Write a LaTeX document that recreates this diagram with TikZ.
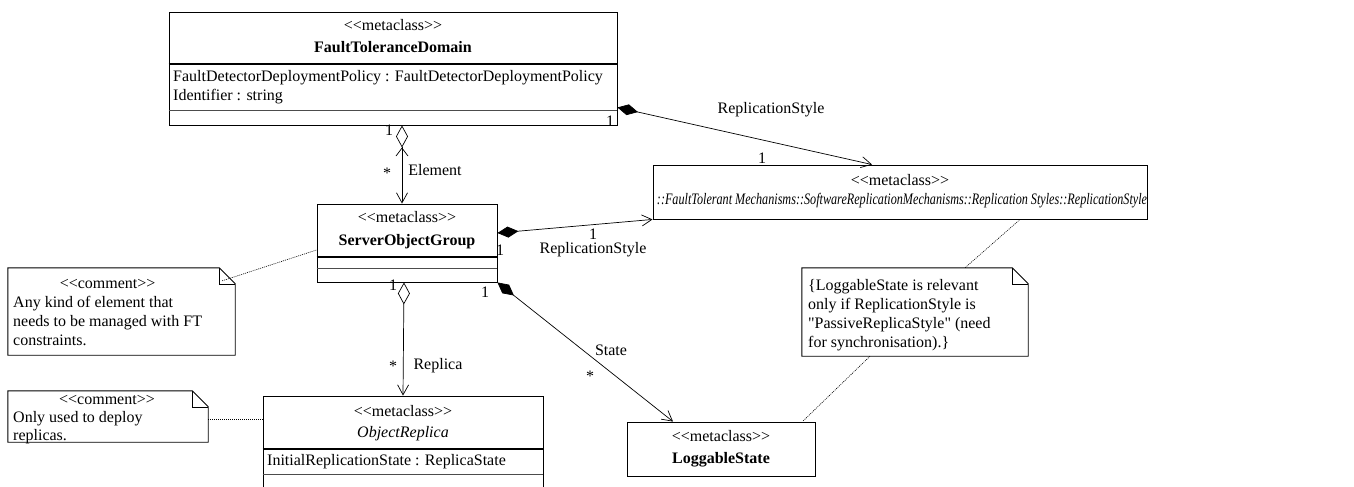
\documentclass[tikz,border=0pt]{standalone}
\usepackage{fontspec}
\setmainfont{Liberation Serif}
\usetikzlibrary{arrows.meta,positioning,calc}
\newcommand{\stereo}[1]{<{}<#1>{}>}

\begin{document}
\fontsize{16}{19}\selectfont
\begin{tikzpicture}[
		x=1pt, y=-1pt,
		classbox/.style={draw, line width=0.9pt, inner sep=0pt},
		divider/.style={line width=2pt},
		thinsep/.style={line width=0.6pt, black!70},
		notebox/.style={inner sep=0pt},
		notetext/.style={inner sep=0pt, anchor=north west},
		txt/.style={inner sep=2pt, text height=11pt, text depth=4pt},
		link/.style={line width=0.7pt},
		comp/.style={link, arrows={Diamond[length=21pt,width=11pt]}-{Straight Barb[length=10pt,width=11pt]}},
		agg/.style={link, arrows={Diamond[open,length=22pt,width=12pt]}-{Straight Barb[length=10pt,width=11pt]}},
		navagg/.style={link, arrows={Diamond[open,length=22pt,width=12pt] Straight Barb[length=8pt,width=12pt]}-{Straight Barb[length=10pt,width=11pt]}},
		anchorline/.style={line width=0.6pt, dash pattern=on 1pt off 1pt}
		]
		\useasboundingbox (0,0) rectangle (1354,487);
		
		% --------------------------------------------------
		% Classes
		% --------------------------------------------------
		\node[classbox, minimum width=448pt, minimum height=113pt] (ftd) at (393,68.5) {};
		\draw[divider] ([yshift=-52pt]ftd.north west) -- ([yshift=-52pt]ftd.north east);
		\draw[thinsep] ([yshift=-99pt]ftd.north west) -- ([yshift=-99pt]ftd.north east);
		\node[txt] (ftdst) at (393,27) {\stereo{metaclass}};
		\node[txt, font=\bfseries] (ftdname) at (393,49) {FaultToleranceDomain};
		\node[txt, anchor=west] (ftda1) at (171,78) {FaultDetectorDeploymentPolicy : FaultDetectorDeploymentPolicy};
		\node[txt, anchor=west] (ftda2) at (171,97) {Identifier : string};
		
		\node[classbox, minimum width=180pt, minimum height=78pt] (sog) at (407,243) {};
		\draw[divider] ([yshift=-53pt]sog.north west) -- ([yshift=-53pt]sog.north east);
		\draw[thinsep] ([yshift=-65pt]sog.north west) -- ([yshift=-65pt]sog.north east);
		\node[txt] (sogst) at (407,219) {\stereo{metaclass}};
		\node[txt, font=\bfseries] (sogname) at (407,242) {ServerObjectGroup};
		
		\node[classbox, minimum width=494pt, minimum height=54pt] (rep) at (900,192) {};
		\node[txt] (repst) at (900,182) {\stereo{metaclass}};
		\node[txt, font=\itshape] (repname) at (902,201) {\scalebox{0.76}[1]{::FaultTolerant Mechanisms::SoftwareReplicationMechanisms::Replication Styles::ReplicationStyle}};
		
		\node[classbox, minimum width=280pt, minimum height=94pt] (orp) at (403,443) {};
		\draw[divider] ([yshift=-53pt]orp.north west) -- ([yshift=-53pt]orp.north east);
		\draw[thinsep] ([yshift=-79pt]orp.north west) -- ([yshift=-79pt]orp.north east);
		\node[txt] (orpst) at (403,413) {\stereo{metaclass}};
		\node[txt, font=\itshape] (orpname) at (403,434) {ObjectReplica};
		\node[txt, anchor=west] (orpa1) at (265,462) {InitialReplicationState : ReplicaState};
		
		\node[classbox, minimum width=188pt, minimum height=54pt] (ls) at (721,449) {};
		\node[txt] (lsst) at (721,438) {\stereo{metaclass}};
		\node[txt, font=\bfseries] (lsname) at (721,460) {LoggableState};
		
		% --------------------------------------------------
		% Notes
		% --------------------------------------------------
		\node[notebox, minimum width=227pt, minimum height=87pt] (c1) at (121.5,311.5) {};
		\node[notetext] (c1t) at (13,275) {\begin{tabular}{@{}l@{}}
				\multicolumn{1}{@{}c@{}}{\stereo{comment}}\\
				Any kind of element that\\
				needs to be managed with FT\\
				constraints.
			\end{tabular}};
		
		\node[notebox, minimum width=200pt, minimum height=51pt] (c2) at (108,416.5) {};
		\node[notetext] (c2t) at (13,392) {\renewcommand{\arraystretch}{0.95}\begin{tabular}{@{}l@{}}
				\multicolumn{1}{@{}l@{}}{\hspace{46pt}\stereo{comment}}\\
				Only used to deploy\\
				replicas.
			\end{tabular}};
		
		\node[notebox, minimum width=226pt, minimum height=88pt] (n3) at (915,312) {};
		\node[notetext] (n3t) at (808,277) {\begin{tabular}{@{}l@{}}
				\{LoggableState is relevant\\
				only if ReplicationStyle is\\
				\textquotedbl PassiveReplicaStyle\textquotedbl{} (need\\
				for synchronisation).\}
			\end{tabular}};
		
		\foreach \n in {c1,c2,n3}{
			\draw[line width=0.9pt] (\n.north west) -- ([xshift=-16pt]\n.north east) -- ([yshift=-16pt]\n.north east) -- (\n.south east) -- (\n.south west) -- cycle;
			\draw[line width=0.6pt] ([xshift=-16pt]\n.north east) |- ([yshift=-16pt]\n.north east);
		}
		
		% --------------------------------------------------
		% Associations
		% --------------------------------------------------
		\draw[navagg] ([xshift=9pt]ftd.south) -- ([xshift=-5pt]sog.north);
		\node[txt] (m1) at (389,132) {1};
		\node[txt] (m2) at (387,175) {*};
		\node[txt] (lelem) at (435,172) {Element};
		
		\draw[comp] ([yshift=18pt]ftd.south east) -- ([xshift=-28pt]rep.north);
		\node[txt] (m3) at (610,123) {1};
		\node[txt] (m4) at (762,160) {1};
		\node[txt] (lrs1) at (771,110) {ReplicationStyle};
		
		\draw[comp] ([yshift=10pt]sog.east) -- (rep.south west);
		\node[txt] (lrs2) at (593,250) {ReplicationStyle};
		\node[txt] (m5) at (500,252) {1};
		\node[txt] (m6) at (593,236) {1};
		
		\draw[agg] ([xshift=-3pt]sog.south) -- (orp.north);
		\node[txt] (m7) at (393,287) {1};
		\node[txt] (m8) at (393,368) {*};
		\node[txt] (lrep) at (438,366) {Replica};
		
		\draw[comp] (sog.south east) -- ([xshift=-48pt]ls.north);
		\node[txt] (m9) at (485,294) {1};
		\node[txt] (m10) at (590,378) {*};
		\node[txt] (lstate) at (611,352) {State};
		
		% --------------------------------------------------
		% Note anchors
		% --------------------------------------------------
		\draw[anchorline] ([xshift=-13pt,yshift=-13pt]c1.north east) -- ([yshift=-7pt]sog.west);
		\draw[anchorline] ([yshift=-2.5pt]c2.east) -- ([yshift=-2.5pt]c2.east -| orp.west);
		\draw[anchorline] ([xshift=120pt]rep.south) -- ([xshift=50pt]n3.north);
		\draw[anchorline] ([xshift=-45pt]n3.south) -- ([xshift=-13pt]ls.north east);
	\end{tikzpicture}
\end{document}
